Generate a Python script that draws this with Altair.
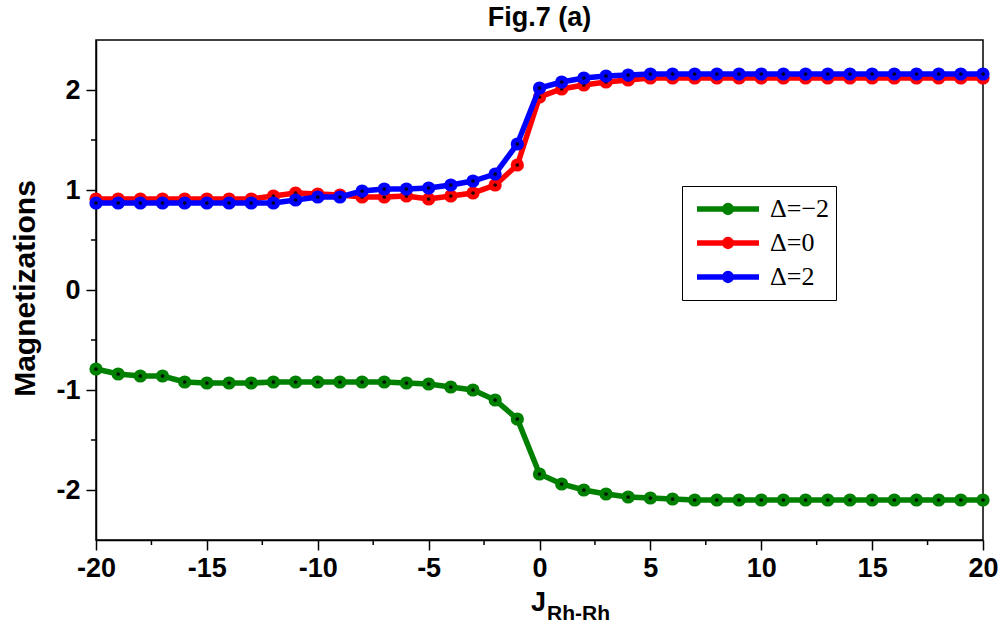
import altair as alt
import pandas as pd

# ---- data ----
J = [-20, -19, -18, -17, -16, -15, -14, -13, -12, -11, -10, -9, -8, -7, -6, -5, -4, -3, -2, -1,
     0, 1, 2, 3, 4, 5, 6, 7, 8, 9, 10, 11, 12, 13, 14, 15, 16, 17, 18, 19, 20]
m_dneg2 = [-0.79, -0.84, -0.86, -0.86, -0.92, -0.93, -0.93, -0.93, -0.92, -0.92,
           -0.92, -0.92, -0.92, -0.92, -0.93, -0.94, -0.97, -1.00, -1.10, -1.29,
           -1.84, -1.94, -2.00, -2.04, -2.07, -2.08, -2.09, -2.10, -2.10, -2.10,
           -2.10, -2.10, -2.10, -2.10, -2.10, -2.10, -2.10, -2.10, -2.10, -2.10, -2.10]
m_d0 = [0.91, 0.91, 0.91, 0.91, 0.91, 0.91, 0.91, 0.91, 0.94, 0.97,
        0.96, 0.95, 0.93, 0.93, 0.94, 0.91, 0.94, 0.97, 1.05, 1.25,
        1.93, 2.01, 2.05, 2.08, 2.10, 2.12, 2.12, 2.12, 2.12, 2.12,
        2.12, 2.12, 2.12, 2.12, 2.12, 2.12, 2.12, 2.12, 2.12, 2.12, 2.12]
m_d2 = [0.87, 0.87, 0.87, 0.87, 0.87, 0.87, 0.87, 0.87, 0.87, 0.90,
        0.93, 0.93, 0.99, 1.01, 1.01, 1.02, 1.05, 1.09, 1.16, 1.46,
        2.02, 2.08, 2.12, 2.14, 2.15, 2.16, 2.16, 2.16, 2.16, 2.16,
        2.16, 2.16, 2.16, 2.16, 2.16, 2.16, 2.16, 2.16, 2.16, 2.16, 2.16]
series_labels = ["\u0394=\u22122", "\u0394=0", "\u0394=2"]
series_colors = ["#008000", "#ff0000", "#0000ff"]
x_ticks = [-20, -15, -10, -5, 0, 5, 10, 15, 20]
x_minor = [-17.5, -12.5, -7.5, -2.5, 2.5, 7.5, 12.5, 17.5]
y_ticks = [-2, -1, 0, 1, 2]
y_minor = [-1.5, -0.5, 0.5, 1.5]
title_text = "Fig.7 (a)"
y_title = "Magnetizations"
x_title_main = "J"
x_title_sub = "Rh-Rh"

rows = []
for lab, vals in zip(series_labels, [m_dneg2, m_d0, m_d2]):
    for j, v in zip(J, vals):
        rows.append({"J": j, "M": v, "series": lab})
df = pd.DataFrame(rows)

SANS = "Liberation Sans, Arial, sans-serif"
SERIF = "Liberation Serif"
xs = alt.Scale(domain=[-20, 20], nice=False, zero=False)
ys = alt.Scale(domain=[-2.5, 2.5], nice=False, zero=False)
cs = alt.Scale(domain=series_labels, range=series_colors)

x_axis = alt.Axis(values=x_ticks, title=None, labelFont=SANS, labelFontSize=27,
                  labelFontWeight="bold", labelColor="black", tickSize=10, tickWidth=1.5,
                  tickColor="black", domainColor="black", domainWidth=1.5, grid=False,
                  labelPadding=5, labelExpr="'' + datum.value", labelFlush=False,
                  labelOverlap=False)
y_axis = alt.Axis(values=y_ticks, title=y_title, labelFont=SANS, labelFontSize=27,
                  labelFontWeight="bold", labelColor="black", tickSize=10, tickWidth=1.5,
                  tickColor="black", domainColor="black", domainWidth=1.5, grid=False,
                  labelPadding=6, labelExpr="'' + datum.value", labelFlush=False,
                  labelOverlap=False, titleFont=SANS,
                  titleFontSize=30, titleFontWeight="bold", titleColor="black",
                  titleX=-71, titleY=248, titleAngle=270, titleBaseline="middle",
                  titleAlign="center")

LEGEND_SYMBOL = "M-1,0H1M0.11,0A0.11,0.11,0,1,1,-0.11,0A0.11,0.11,0,1,1,0.11,0Z"
legend = alt.Legend(title=None, orient="none", legendX=586, legendY=146,
                    symbolType=LEGEND_SYMBOL, symbolSize=3844, symbolStrokeWidth=5.5,
                    symbolOpacity=1, clipHeight=34, padding=6, symbolOffset=6,
                    labelOffset=8, labelFont=SERIF,
                    labelFontSize=26, labelColor="black", strokeColor="black",
                    fillColor="white", rowPadding=0)

X = alt.X("J:Q", scale=xs, axis=x_axis)
Y = alt.Y("M:Q", scale=ys, axis=y_axis)

layers = []
for i, lab in enumerate(series_labels):
    base = alt.Chart(df).transform_filter(alt.datum.series == lab)
    line = base.mark_line(strokeWidth=5.5, opacity=1).encode(
        x=X, y=Y,
        color=alt.Color("series:N", scale=cs, legend=legend),
    )
    pts = base.mark_circle(size=175, opacity=1, color=series_colors[i]).encode(x=X, y=Y)
    dots = base.mark_circle(size=14, opacity=0.85, color="black").encode(x=X, y=Y)
    layers += [line, pts, dots]

xminor = alt.Chart(pd.DataFrame({"v": x_minor})).mark_rule(color="black", strokeWidth=1.5).encode(
    x=alt.X("v:Q", scale=xs, axis=x_axis), y=alt.value(500), y2=alt.value(505))
yminor = alt.Chart(pd.DataFrame({"v": y_minor})).mark_rule(color="black", strokeWidth=1.5).encode(
    y=alt.Y("v:Q", scale=ys, axis=y_axis), x=alt.value(0), x2=alt.value(-5))

xt_main = alt.Chart(pd.DataFrame({"t": [x_title_main]})).mark_text(
    font=SANS, fontSize=27, fontWeight="bold",
    align="right", baseline="alphabetic", color="black").encode(
    text="t:N", x=alt.value(450), y=alt.value(571))
xt_sub = alt.Chart(pd.DataFrame({"t": [x_title_sub]})).mark_text(
    font=SANS, fontSize=21, fontWeight="bold",
    align="left", baseline="alphabetic", color="black").encode(
    text="t:N", x=alt.value(451), y=alt.value(580))

chart = alt.layer(*layers, xminor, yminor, xt_main, xt_sub).properties(
    width=887, height=500,
    autosize=alt.AutoSizeParams(type="none"),
    padding={"left": 96, "top": 40, "right": 20, "bottom": 84},
    background="white",
    title=alt.TitleParams(title_text, font=SANS, fontSize=27,
                          fontWeight="bold", color="black", anchor="middle", offset=8),
).configure_view(stroke="black", strokeWidth=1.5)

chart.save("out.html", embed_options={"renderer": "svg", "actions": False})
